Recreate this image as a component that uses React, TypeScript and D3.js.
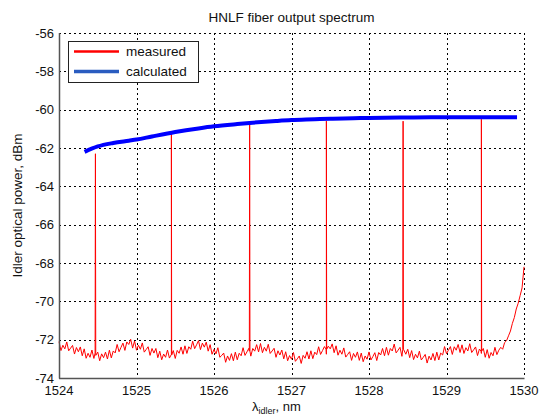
import React, { useEffect, useRef } from 'react';
import * as d3 from 'd3';

// x axis / y axis ticks
const xTicks = [1524, 1525, 1526, 1527, 1528, 1529, 1530];
const yTicks = [-56, -58, -60, -62, -64, -66, -68, -70, -72, -74];

// measured noise floor, sampled every 0.025 nm from 1524 nm
const floorStart = 1524;
const floorStep = 0.025;
const floorValues = [
  -72.10, -72.57, -72.29, -72.48,
  -72.12, -72.58, -72.44, -72.30,
  -72.75, -72.41, -72.63, -72.38,
  -72.84, -72.48, -72.97, -72.71,
  -72.92, -72.54, -72.98, -72.82,
  -72.65, -73.10, -72.74, -72.94,
  -72.65, -73.01, -72.55, -72.95,
  -72.59, -72.69, -72.25, -72.63,
  -72.40, -72.18, -72.56, -72.12,
  -72.25, -71.98, -72.44, -72.07,
  -72.55, -72.29, -72.50, -72.17,
  -72.65, -72.51, -72.37, -72.82,
  -72.46, -72.70, -72.46, -72.94,
  -72.60, -73.05, -72.75, -72.92,
  -72.54, -72.96, -72.77, -72.57,
  -72.98, -72.56, -72.71, -72.38,
  -72.76, -72.32, -72.72, -72.37,
  -72.50, -72.08, -72.47, -72.27,
  -72.05, -72.52, -72.18, -72.39,
  -72.13, -72.60, -72.26, -72.76,
  -72.51, -72.74, -72.42, -72.92,
  -72.82, -72.70, -73.18, -72.85,
  -73.08, -72.73, -73.10, -72.65,
  -73.05, -72.71, -72.84, -72.42,
  -72.82, -72.64, -72.45, -72.86,
  -72.46, -72.60, -72.26, -72.64,
  -72.20, -72.68, -72.40, -72.60,
  -72.24, -72.72, -72.59, -72.45,
  -72.92, -72.58, -72.80, -72.54,
  -73.00, -72.63, -73.10, -72.83,
  -73.02, -72.67, -73.13, -73.00,
  -72.85, -73.24, -72.82, -72.97,
  -72.63, -73.01, -72.58, -72.99,
  -72.65, -72.78, -72.37, -72.77,
  -72.57, -72.36, -72.76, -72.34,
  -72.48, -72.22, -72.68, -72.32,
  -72.81, -72.55, -72.76, -72.43,
  -72.91, -72.77, -72.63, -73.08,
  -72.72, -72.92, -72.64, -73.08,
  -72.70, -73.15, -72.85, -73.02,
  -72.64, -73.06, -72.88, -72.68,
  -73.09, -72.67, -72.80, -72.46,
  -72.84, -72.40, -72.81, -72.46,
  -72.59, -72.23, -72.69, -72.55,
  -72.40, -72.87, -72.54, -72.76,
  -72.50, -72.94, -72.57, -73.04,
  -72.76, -72.95, -72.60, -73.06,
  -72.92, -72.77, -73.22, -72.86,
  -73.06, -72.72, -73.09, -72.65,
  -73.06, -72.70, -72.80, -72.36,
  -72.73, -72.55, -72.36, -72.77,
  -72.37, -72.55, -72.25, -72.67,
  -72.27, -72.72, -72.42, -72.59,
  -72.21, -72.67, -72.53, -72.38,
  -72.83, -72.49, -72.72, -72.46,
  -72.92, -72.52, -72.97, -72.67,
  -72.84, -72.40, -72.78, -72.55,
  -72.40, -72.50, -72.15, -72.05,
  -71.80, -71.55, -71.15, -70.85,
  -70.40, -70.10, -69.70, -69.30,
  -68.20,
];

// idler peaks
const peakWl = [1524.47, 1525.45, 1526.46, 1527.45, 1528.44, 1529.45];
const peakTop = [-62.3, -61.2, -60.77, -60.6, -60.6, -60.5];
const peakFoot = [-72.7, -72.8, -72.6, -72.5, -72.5, -72.6];

// calculated idler power
const calcWl = [1524.33, 1524.5, 1524.7, 1524.9, 1525.0, 1525.2, 1525.5, 1525.8, 1526.0, 1526.3, 1526.5, 1526.8,
  1527.0, 1527.3, 1527.5, 1527.8, 1528.0, 1528.4, 1528.8, 1529.2, 1529.6, 1529.91];
const calcDb = [-62.2, -61.92, -61.74, -61.62, -61.56, -61.4, -61.17, -60.98, -60.87, -60.75, -60.68, -60.59,
  -60.54, -60.5, -60.47, -60.45, -60.43, -60.41, -60.4, -60.39, -60.39, -60.39];

const W = 541;
const H = 417;
const m = { left: 59, right: 524, top: 33, bottom: 378 };
const font = 'Liberation Sans, Arial, sans-serif';

export default function App() {
  const ref = useRef<SVGSVGElement>(null);

  useEffect(() => {
    const svg = d3.select(ref.current);
    svg.selectAll('*').remove();

    const x = d3.scaleLinear().domain([1524, 1530]).range([m.left, m.right]);
    const y = d3.scaleLinear().domain([-74, -56]).range([m.bottom, m.top]);

    // grid
    const grid = svg.append('g').attr('stroke', '#000').attr('stroke-width', 1)
      .attr('stroke-dasharray', '2,3').attr('shape-rendering', 'crispEdges');
    xTicks.forEach(t => {
      grid.append('line').attr('x1', Math.round(x(t)) + 0.5).attr('x2', Math.round(x(t)) + 0.5)
        .attr('y1', m.top).attr('y2', m.bottom);
    });
    yTicks.forEach(t => {
      grid.append('line').attr('y1', Math.round(y(t)) + 0.5).attr('y2', Math.round(y(t)) + 0.5)
        .attr('x1', m.left).attr('x2', m.right);
    });

    // measured spectrum
    const pts: [number, number][] = floorValues.map((v, i) => [floorStart + i * floorStep, v]);
    peakWl.forEach((w, i) => {
      pts.push([w - 0.004, peakFoot[i]]);
      pts.push([w, peakTop[i]]);
      pts.push([w + 0.004, peakFoot[i]]);
    });
    pts.sort((a, b) => a[0] - b[0]);

    const line = d3.line<[number, number]>().x(d => x(d[0])).y(d => y(d[1]));
    svg.append('path').datum(pts).attr('d', line).attr('fill', 'none')
      .attr('stroke', '#ff0000').attr('stroke-width', 1);

    // calculated
    const calcPts: [number, number][] = calcWl.map((w, i) => [w, calcDb[i]]);
    svg.append('path').datum(calcPts).attr('d', line.curve(d3.curveMonotoneX)).attr('fill', 'none')
      .attr('stroke', '#0000ff').attr('stroke-width', 4);

    // axes lines
    svg.append('line').attr('x1', m.left + 0.5).attr('x2', m.left + 0.5).attr('y1', m.top).attr('y2', m.bottom + 0.5)
      .attr('stroke', '#555').attr('stroke-width', 1.5);
    svg.append('line').attr('x1', m.left).attr('x2', m.right + 0.5).attr('y1', m.bottom + 0.5).attr('y2', m.bottom + 0.5)
      .attr('stroke', '#555').attr('stroke-width', 1.5);

    // tick labels
    const txt = svg.append('g').attr('font-family', font).attr('font-size', 13).attr('fill', '#111');
    xTicks.forEach(t => {
      txt.append('text').attr('x', x(t)).attr('y', m.bottom + 17).attr('text-anchor', 'middle').text(t);
    });
    yTicks.forEach(t => {
      txt.append('text').attr('x', m.left - 5).attr('y', y(t) + 4.5).attr('text-anchor', 'end').text(t);
    });

    // title & labels
    txt.append('text').attr('x', (m.left + m.right) / 2).attr('y', 22).attr('text-anchor', 'middle')
      .attr('font-size', 13.5).text('HNLF fiber output spectrum');
    txt.append('text').attr('transform', `translate(22,${(m.top + m.bottom) / 2}) rotate(-90)`)
      .attr('text-anchor', 'middle').attr('font-size', 13.5).text('Idler optical power, dBm');
    const xl = txt.append('text').attr('x', 252).attr('y', 411).attr('font-size', 13);
    xl.append('tspan').text('λ');
    xl.append('tspan').attr('dy', 3).attr('font-size', 9).text('idler');
    xl.append('tspan').attr('dy', -3).text(', nm');

    // legend
    const lg = svg.append('g');
    lg.append('rect').attr('x', 68.5).attr('y', 41.5).attr('width', 130).attr('height', 41)
      .attr('fill', '#fff').attr('stroke', '#222').attr('stroke-width', 1);
    lg.append('line').attr('x1', 74).attr('x2', 119).attr('y1', 51.5).attr('y2', 51.5)
      .attr('stroke', '#ff0000').attr('stroke-width', 2.5);
    lg.append('line').attr('x1', 74).attr('x2', 119).attr('y1', 71.5).attr('y2', 71.5)
      .attr('stroke', '#2a5cc0').attr('stroke-width', 3.5);
    lg.append('text').attr('x', 126).attr('y', 56).attr('font-family', font).attr('font-size', 13.5)
      .attr('fill', '#111').text('measured');
    lg.append('text').attr('x', 126).attr('y', 76).attr('font-family', font).attr('font-size', 13.5)
      .attr('fill', '#111').text('calculated');
  }, []);

  return (
    <svg ref={ref} width={W} height={H} style={{ position: 'absolute', left: 0, top: 0, background: '#fff' }} />
  );
}
